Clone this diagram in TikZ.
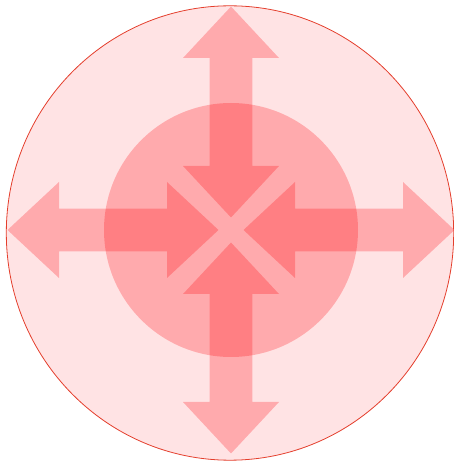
\documentclass[tikz,border=0pt]{standalone}
\usepackage{tikz}
\definecolor{rojo}{RGB}{255,0,8}
\definecolor{borde}{RGB}{228,62,44}
\newcommand{\dobleflecha}{(12.5,0) -- (64,48) -- (64,21.3) -- (172,21.3) -- (172,48) -- (223.5,0)
  -- (172,-48) -- (172,-21.3) -- (64,-21.3) -- (64,-48) -- cycle}
\tikzset{
  fondo/.style={draw=borde, line width=0.8pt, fill=rojo, fill opacity=0.11},
  nucleo/.style={fill=rojo, fill opacity=0.25},
  flecha/.style={fill=rojo, fill opacity=0.25},
}

\begin{document}
\begin{tikzpicture}[x=1pt, y=1pt]
  \useasboundingbox (0,0) rectangle (454,464);
  \coordinate (c) at (231,234);
  \draw[fondo] (230,231) ellipse [x radius=223.7, y radius=227.2];
  \fill[nucleo] (c) circle [radius=127];
  \fill[flecha, shift={(c)}, rotate=0] \dobleflecha;
  \fill[flecha, shift={(c)}, rotate=90] \dobleflecha;
  \fill[flecha, shift={(c)}, rotate=180] \dobleflecha;
  \fill[flecha, shift={(c)}, rotate=270] \dobleflecha;
\end{tikzpicture}
\end{document}
